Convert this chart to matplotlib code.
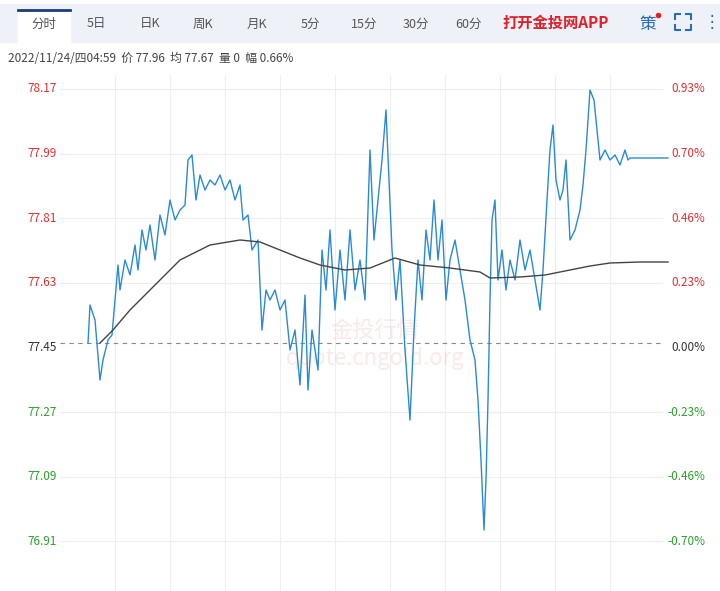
import numpy as np
import matplotlib.pyplot as plt
from matplotlib.patches import Rectangle

plt.rcParams['font.family'] = ['Noto Sans CJK SC', 'DejaVu Sans']

# price path (x = minute slot on screen scale, y = price)
px = [88, 90, 95, 100, 103, 108, 112, 115, 118, 120, 125, 130, 135, 138, 142, 146, 150, 155, 160, 165,
      170, 175, 180, 185, 188, 192, 196, 200, 205, 210, 215, 220, 225, 230, 235, 240, 243, 248, 252, 258,
      262, 266, 270, 275, 280, 285, 290, 295, 300, 305, 308, 312, 318, 322, 326, 330, 335, 340, 345, 350,
      355, 360, 365, 370, 374, 378, 382, 386, 389, 392, 396, 400, 405, 410, 414, 418, 422, 426, 430, 434,
      438, 442, 446, 450, 455, 460, 465, 470, 475, 478, 481, 484, 486, 488, 490, 492, 495, 498, 502, 506,
      510, 515, 520, 525, 530, 535, 540, 543, 547, 550, 553, 556, 560, 563, 566, 570, 575, 580, 583, 586,
      590, 594, 597, 600, 605, 610, 615, 620, 625, 628, 630, 668]
py_pix = [343, 305, 320, 380, 360, 340, 335, 300, 265, 290, 260, 275, 245, 270, 230, 250, 225, 260, 215, 235,
          200, 220, 210, 205, 160, 155, 200, 175, 190, 180, 185, 175, 190, 180, 200, 185, 220, 215, 250, 240,
          330, 290, 300, 290, 310, 300, 350, 330, 385, 295, 390, 330, 370, 250, 290, 230, 310, 250, 300, 230,
          290, 260, 300, 150, 240, 200, 160, 110, 180, 250, 300, 260, 350, 420, 330, 260, 300, 230, 260, 200,
          260, 220, 300, 260, 240, 270, 300, 340, 360, 400, 460, 530, 480, 400, 300, 220, 200, 280, 250, 290,
          260, 280, 240, 270, 250, 280, 310, 270, 200, 150, 125, 180, 200, 190, 160, 240, 230, 210, 185, 150,
          90, 100, 130, 160, 150, 160, 155, 165, 150, 160, 158, 158]
ax_x = [100, 113, 130, 150, 180, 210, 240, 260, 280, 300, 320, 345, 370, 395, 420, 450, 480, 490, 520, 545,
        570, 590, 610, 640, 668]
ax_pix = [343, 330, 310, 290, 260, 245, 240, 242, 250, 258, 265, 270, 268, 258, 265, 268, 272, 278, 277, 275,
          270, 266, 263, 262, 262]

left_labels = ['78.17', '77.99', '77.81', '77.63', '77.45', '77.27', '77.09', '76.91', '76.73']
right_labels = ['0.93%', '0.70%', '0.46%', '0.23%', '0.00%', '-0.23%', '-0.46%', '-0.70%', '-0.93%']

def to_price(y):
    return 78.17 - (np.asarray(y) - 89) / 359.0

fig = plt.figure(figsize=(7.2, 5.91), dpi=100)
ax = fig.add_axes([0, 0, 1, 1])
ax.set_xlim(0, 720)
ax.set_ylim(to_price(591), to_price(0))
ax.axis('off')

# header bar
ax.add_patch(Rectangle((0, to_price(42)), 720, to_price(4) - to_price(42), color='#eef2f8', zorder=0))
ax.add_patch(Rectangle((18, to_price(42)), 52, to_price(10) - to_price(42), color='white', zorder=1))
ax.plot([18, 70], [to_price(10), to_price(10)], color='#1a3c7a', lw=2, zorder=2)
tabs = ['分时', '5日', '日K', '周K', '月K', '5分', '15分', '30分', '60分']
tab_x = [44, 96, 150, 203, 257, 310, 364, 416, 469]
for t, x in zip(tabs, tab_x):
    ax.text(x, to_price(24), t, ha='center', va='center', fontsize=9, color='#555555')
ax.text(502, to_price(23), '打开金投网APP', ha='left', va='center', fontsize=11, color='#e0202a', weight='bold')
ax.text(648, to_price(24), '策', ha='center', va='center', fontsize=12, color='#2a6db5')
ax.plot([658], [to_price(15)], 'o', color='#e0202a', ms=3)
# fullscreen icon: four corner brackets
for cx, cy, dx, dy in [(675, 14, 1, 1), (691, 14, -1, 1), (675, 30, 1, -1), (691, 30, -1, -1)]:
    ax.plot([cx + 5 * dx, cx, cx], [to_price(cy)] * 2 + [to_price(cy + 5 * dy)], color='#2a6db5', lw=1.5)
ax.text(712, to_price(22), '⋮', ha='center', va='center', fontsize=12, color='#2a6db5', family='DejaVu Sans')
ax.text(8, to_price(58), '2022/11/24/四04:59  价 77.96  均 77.67  量 0  幅 0.66%',
        ha='left', va='center', fontsize=8.5, color='#444444')

# grid
for i, lab in enumerate(left_labels):
    y = 89 + i * 64.6
    p = to_price(y)
    if i != 4:
        ax.plot([60, 662], [p, p], color='#eeeeee', lw=0.8, zorder=1)
    col = '#e03030' if i < 4 else ('#333333' if i == 4 else '#2ca02c')
    ax.text(57, p, lab, ha='right', va='center', fontsize=8.5, color=col)
    ax.text(705, p, right_labels[i], ha='right', va='center', fontsize=8.5, color=col)
for k in range(10):
    x = 115 + 55 * k
    ax.plot([x, x], [to_price(75), to_price(591)], color='#eeeeee', lw=0.8, zorder=1)
ax.plot([60, 662], [to_price(343)] * 2, color='#888888', lw=0.8, ls=(0, (4, 4)), zorder=2)

# watermark
ax.text(375, to_price(345), '金投行情\nquote.cngold.org', ha='center', va='center', fontsize=16,
        color='#e05050', alpha=0.12, zorder=1)

ax.plot(px, to_price(py_pix), color='#2a8ad4', lw=1.0, zorder=3)
ax.plot(ax_x, to_price(ax_pix), color='#444444', lw=1.0, zorder=3)

fig.savefig('out.png', dpi=100)
